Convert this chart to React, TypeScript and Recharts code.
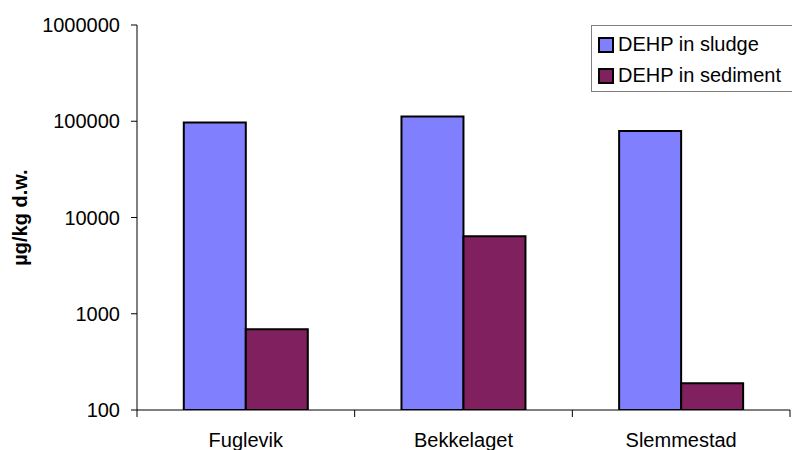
import { BarChart, Bar, XAxis, YAxis, Legend } from 'recharts'

const sites = ['Fuglevik', 'Bekkelaget', 'Slemmestad']
const sludge = [97000, 112000, 79000]
const sediment = [690, 6400, 190]
const yTicks = [100, 1000, 10000, 100000, 1000000]

const data = sites.map((site, i) => ({ site, sludge: sludge[i], sediment: sediment[i] }))

const font = '"Liberation Sans", Arial, sans-serif'

// category ticks sit on the band edges, labels in the middle
function SiteTick(props: any) {
  const { x, y, payload, index, visibleTicksCount } = props
  const half = payload.offset ?? 0
  const last = index === visibleTicksCount - 1
  return (
    <g>
      <line x1={x - half} x2={x - half} y1={y} y2={y + 7} stroke="#000" />
      {last && <line x1={x + half} x2={x + half} y1={y} y2={y + 7} stroke="#000" />}
      <text x={x} y={y + 37} textAnchor="middle" fontSize={20} fill="#000" fontFamily={font}>
        {payload.value}
      </text>
    </g>
  )
}

function LegendBox() {
  const rows = [
    { name: 'DEHP in sludge', color: '#8080FF' },
    { name: 'DEHP in sediment', color: '#80205F' },
  ]
  return (
    <div
      style={{
        border: '1px solid #808080',
        background: '#fff',
        width: 220,
        height: 67,
        boxSizing: 'border-box',
        paddingLeft: 6,
        paddingTop: 3,
        fontFamily: font,
        fontSize: 20,
        color: '#000',
      }}
    >
      {rows.map((r) => (
        <div key={r.name} style={{ display: 'flex', alignItems: 'center', height: 31 }}>
          <span
            style={{
              width: 12,
              height: 12,
              background: r.color,
              border: '2px solid #000',
              marginRight: 4,
              display: 'inline-block',
            }}
          />
          <span>{r.name}</span>
        </div>
      ))}
    </div>
  )
}

export default function App() {
  return (
    <div style={{ position: 'absolute', left: 0, top: 0, background: '#fff' }}>
      <BarChart
        width={792}
        height={450}
        data={data}
        margin={{ top: 25, right: 2, bottom: 0, left: 0 }}
        barCategoryGap="21.5%"
        barGap={0}
        style={{ fontFamily: font }}
      >
        <XAxis
          dataKey="site"
          stroke="#000"
          tickLine={false}
          tickSize={0}
          tickMargin={0}
          tick={<SiteTick />}
          interval={0}
          height={40}
        />
        <YAxis
          scale="log"
          domain={[100, 1000000]}
          ticks={yTicks}
          allowDataOverflow
          stroke="#000"
          width={137}
          tickSize={6}
          tickMargin={11}
          tick={{ fill: '#000', fontSize: 20 }}
          interval={0}
          label={{
            value: 'µg/kg d.w.',
            angle: -90,
            position: 'insideLeft',
            offset: 20,
            style: { textAnchor: 'middle', fontWeight: 'bold', fontSize: 20, fill: '#000' },
          }}
        />
        <Legend
          layout="vertical"
          align="center"
          verticalAlign="middle"
          content={() => <LegendBox />}
          wrapperStyle={{ position: 'absolute', left: 591, top: 25, width: 220 }}
        />
        <Bar dataKey="sludge" name="DEHP in sludge" fill="#8080FF" stroke="#000" strokeWidth={2} isAnimationActive={false} />
        <Bar dataKey="sediment" name="DEHP in sediment" fill="#80205F" stroke="#000" strokeWidth={2} isAnimationActive={false} />
      </BarChart>
    </div>
  )
}
